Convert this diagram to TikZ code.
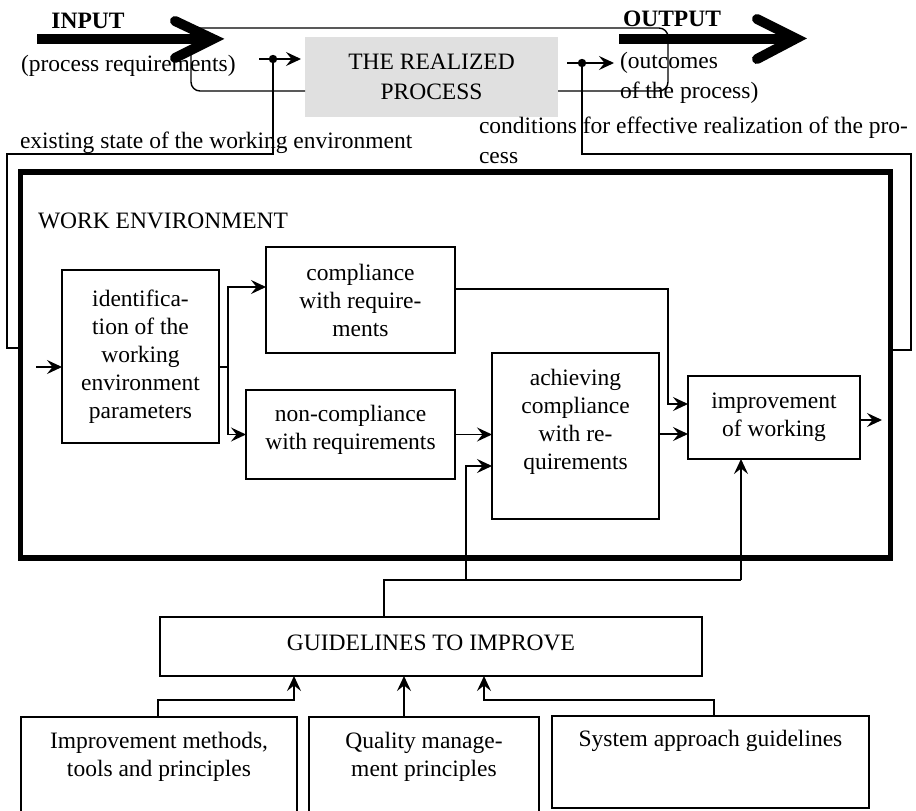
\documentclass[tikz,border=0pt]{standalone}
\usepackage{fontspec}
\setmainfont{Liberation Serif}
\usetikzlibrary{arrows.meta,calc}
\definecolor{procgray}{RGB}{224,224,224}
\newcommand\bigf{\fontsize{23.5}{28}\selectfont}
\begin{document}
\begin{tikzpicture}[x=1pt,y=-1pt,
  font=\bigf,
  box/.style={draw, line width=1.4pt, inner sep=0pt, outer sep=0pt, align=center},
  lbl/.style={inner sep=0pt, outer sep=0pt, align=center},
  conn/.style={line width=1.4pt},
  arr/.style={conn, -{Stealth[length=15pt,width=14pt,inset=5.5pt]}},
  bigbar/.style={line width=10pt},
  chev/.style={line width=10pt, line cap=round, line join=miter}]
\useasboundingbox (0,0) rectangle (916,811);
\clip (0,0) rectangle (916,811);

% ---------------- top: process ----------------
\node[box, draw=none, fill=procgray, minimum width=253pt, minimum height=80pt, font=\fontsize{23.5}{30}\selectfont] (proc) at (431.5,77) {THE REALIZED\\PROCESS};

\node[lbl, anchor=base, font=\bigf\bfseries] (inp) at (88,28) {INPUT};
\node[lbl, anchor=base, font=\bigf\bfseries] (outp) at (672,26) {OUTPUT};

% big input arrow
\coordinate (inA) at (37,39);
\coordinate (inB) at (207,39);
\coordinate (inT) at (213,39);
\coordinate (inU) at (175,21);
\coordinate (inD) at (175,58);
\draw[bigbar] (inA) -- (inB);
\draw[chev] (inU) -- (inT) -- (inD);

% big output arrow
\coordinate (outA) at (619,38.5);
\coordinate (outB) at (790,38.5);
\coordinate (outT) at (796,38.5);
\coordinate (outU) at (757,19);
\coordinate (outD) at (757,59);
\draw[bigbar] (outA) -- (outB);
\draw[chev] (outU) -- (outT) -- (outD);

% texts near process
\node[lbl, anchor=base west] (preq) at (21,71) {(process requirements)};
\node[lbl, anchor=base west, align=left, font=\fontsize{23.5}{30}\selectfont] (outc) at (620,98) {(outcomes\\of the process)};
\node[lbl, anchor=base west] (exist) at (20,148) {existing state of the working environment};
\node[lbl, anchor=base west, align=left, font=\fontsize{23.5}{30}\selectfont] (cond) at (479,163) {conditions for effective realization of the pro-\\cess};

% frame lines around process
\coordinate (lA) at (191,50);
\coordinate (rC) at (668,91);
\coordinate (tC) at (668,28);
\coordinate (tL) at (198,28);
\draw[conn, rounded corners=9pt] (lA) -- (191,91) -- (proc.west |- 0,91);
\draw[conn, rounded corners=9pt] (proc.east |- 0,91) -- (rC) -- (tC) -- (tL);

% ---------------- work environment ----------------
\node[draw, line width=5.5pt, inner sep=0pt, outer sep=0pt, minimum width=870pt, minimum height=386pt] (env) at (455.5,365) {};
\node[lbl, anchor=base west] (envt) at (38,228) {WORK ENVIRONMENT};

\node[box, minimum width=157pt, minimum height=173pt] (idn) at (140.5,356.5) {identifica-\\tion of the\\working\\environment\\parameters};
\node[box, minimum width=189pt, minimum height=106pt] (comp) at (360.5,300) {compliance\\with require-\\ments};
\node[box, minimum width=209pt, minimum height=89pt] (ncomp) at (350.5,434.5) {};
\node[lbl] (ncompt) at (350.5,430) {non-compliance\\with requirements};
\node[box, minimum width=167pt, minimum height=166pt] (ach) at (575.5,436) {};
\node[lbl] (acht) at (575.5,422) {achieving\\compliance\\with re-\\quirements};
\node[box, minimum width=172pt, minimum height=83pt] (imp) at (774,417.5) {improvement\\of working};

% ---------------- guidelines ----------------
\node[box, minimum width=542pt, minimum height=59pt] (guide) at (431,646.5) {};
\node[lbl] (guidet) at (431,643) {GUIDELINES TO IMPROVE};
\node[box, minimum width=276pt, minimum height=130pt] (m1) at (159,782) {};
\node[lbl] (m1t) at (159,757) {Improvement methods,\\tools and principles};
\node[box, minimum width=230pt, minimum height=130pt] (m2) at (424,782) {};
\node[lbl] (m2t) at (424,757) {Quality manage-\\ment principles};
\node[box, minimum width=317pt, minimum height=92pt] (m3) at (710.5,762) {};
\node[lbl] (m3t) at (710.5,741) {System approach guidelines};

% ---------------- connectors: process ----------------
\coordinate (dotL) at (273,59);
\coordinate (aL) at (259,59);
\draw[arr, shorten >=4pt] (aL) -- (proc.west |- aL);
\fill (dotL) circle (4.2pt);
\coordinate (exL) at (7,348);
\draw[conn] (env.west |- exL) -- (exL) -- (7,154) -- (dotL |- 0,154) -- (dotL);

\coordinate (dotR) at (582,63);
\coordinate (aR) at (614,63);
\draw[arr] ([xshift=9pt]proc.east |- dotR) -- (aR);
\fill (dotR) circle (4.2pt);
\coordinate (exR) at (911,350);
\draw[conn] (dotR) -- (dotR |- 0,154) -- (911,154) -- (exR) -- (env.east |- exR);

% ---------------- connectors: inside ----------------
\draw[arr] (36,367) -- (idn.west |- 0,367);
\coordinate (j1) at (228,367);
\draw[conn] (idn.east |- j1) -- (j1);
\draw[arr] (j1) |- ([yshift=13pt]comp.west);
\draw[arr] (j1) |- (ncomp.west);
\draw[arr] ([yshift=11pt]comp.east) -| (668,404) -- ([yshift=13.5pt]imp.west);
\draw[arr] (ncomp.east) -- (ncomp.east -| ach.west);
\draw[arr] ([yshift=2pt]ach.east) -- ([yshift=2pt]ach.east -| imp.west);
\draw[arr] ([yshift=-2.5pt]imp.east) -- ++(22,0);

% ---------------- connectors: guidelines ----------------
\coordinate (gA) at (384,580);
\coordinate (gB) at (741,580);
\coordinate (gC) at (466,580);
\draw[conn] (guide.north -| gA) -- (gA) -- (gB);
\draw[arr] (gC) |- ([yshift=-30pt]ach.west);
\draw[arr] (gB) -- (gB |- imp.south);

\draw[arr] (m1.north -| 158,0) |- (294,700) -- (guide.south -| 294,0);
\draw[arr] (m2.north -| 404,0) -- (guide.south -| 404,0);
\draw[arr] (m3.north -| 714,0) |- (484,700) -- (guide.south -| 484,0);
\end{tikzpicture}
\end{document}
